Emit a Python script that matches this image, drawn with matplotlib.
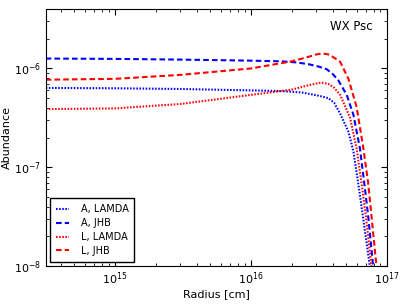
import numpy as np
import matplotlib
matplotlib.use('Agg')
import matplotlib.pyplot as plt

# radius [cm] and abundance
r_a_lamda = [3.1e14, 1e15, 3e15, 1e16, 1.7e16, 2.4e16, 3.16e16, 3.73e16, 4.1e16, 4.54e16,
             5.22e16, 5.69e16, 6.17e16, 6.68e16, 7.41e16, 7.5e16]
x_a_lamda = [6.35e-7, 6.3e-7, 6.2e-7, 6.0e-7, 5.9e-7, 5.7e-7, 5.3e-7, 5.0e-7, 4.5e-7, 3.5e-7,
             2.3e-7, 1.45e-7, 6.9e-8, 3.2e-8, 1.15e-8, 1.0e-8]

r_a_jhb = [3.1e14, 1e15, 3e15, 1e16, 1.7e16, 2.2e16, 2.7e16, 3.2e16, 3.63e16, 4.0e16, 4.4e16,
           5.08e16, 5.69e16, 6.35e16, 6.84e16, 7.31e16, 7.87e16, 7.94e16]
x_a_jhb = [1.26e-6, 1.25e-6, 1.23e-6, 1.2e-6, 1.18e-6, 1.15e-6, 1.1e-6, 1.04e-6, 9.8e-7, 8.8e-7, 7.6e-7,
           5.4e-7, 3.4e-7, 1.56e-7, 6.9e-8, 3.2e-8, 1.15e-8, 1.0e-8]

r_l_lamda = [3.1e14, 1e15, 3e15, 1e16, 2e16, 2.7e16, 3.3e16, 3.73e16, 4.1e16, 4.54e16,
             5.37e16, 6.0e16, 6.53e16, 7.03e16, 7.64e16, 7.73e16]
x_l_lamda = [3.88e-7, 3.94e-7, 4.36e-7, 5.4e-7, 6.1e-7, 6.8e-7, 7.2e-7, 6.95e-7, 6.4e-7, 5.4e-7,
             3.2e-7, 1.56e-7, 6.9e-8, 3.2e-8, 1.15e-8, 1.0e-8]

r_l_jhb = [3.1e14, 1e15, 3e15, 1e16, 2e16, 2.6e16, 3e16, 3.35e16, 3.7e16, 3.95e16, 4.54e16,
           5.22e16, 6.0e16, 6.73e16, 7.31e16, 7.73e16, 8.32e16, 8.41e16]
x_l_jhb = [7.7e-7, 7.85e-7, 8.6e-7, 1.0e-6, 1.18e-6, 1.3e-6, 1.38e-6, 1.42e-6, 1.39e-6, 1.33e-6, 1.17e-6,
           7.9e-7, 4.1e-7, 1.56e-7, 6.9e-8, 3.2e-8, 1.15e-8, 1.0e-8]

plt.rcParams['font.size'] = 8
plt.rcParams['xtick.direction'] = 'in'
plt.rcParams['ytick.direction'] = 'in'
plt.rcParams['xtick.top'] = True
plt.rcParams['ytick.right'] = True

fig = plt.figure(figsize=(4.07, 3.05), dpi=100)
ax = fig.add_axes([45.7/407, 1 - 266/305, (386.7 - 45.7)/407, (266 - 9)/305])

dots = (0.75, 0.75)
dash = (2.7, 1.5)
ax.plot(r_a_lamda, x_a_lamda, color='blue', lw=1.5, dashes=dots, label='A, LAMDA')
ax.plot(r_a_jhb, x_a_jhb, color='blue', lw=1.5, dashes=dash, label='A, JHB')
ax.plot(r_l_lamda, x_l_lamda, color='red', lw=1.5, dashes=dots, label='L, LAMDA')
ax.plot(r_l_jhb, x_l_jhb, color='red', lw=1.5, dashes=dash, label='L, JHB')

ax.set_xscale('log')
ax.set_yscale('log')
ax.set_xlim(3.1e14, 1e17)
ax.set_ylim(1e-8, 4e-6)
ax.set_xlabel('Radius [cm]', labelpad=2)
ax.set_ylabel('Abundance', labelpad=2)
ax.tick_params(which='major', length=4, pad=3)
ax.tick_params(which='minor', length=2)

ax.text(0.96, 0.93, 'WX Psc', transform=ax.transAxes, ha='right', va='center', fontsize=8.5)

leg = ax.legend(loc='lower left', fontsize=7, handlelength=1.35, handletextpad=1.2,
                borderpad=0.6, labelspacing=0.4, borderaxespad=0.45,
                fancybox=False, framealpha=1)
leg.get_frame().set_edgecolor('black')

plt.savefig('out.png', dpi=100)
